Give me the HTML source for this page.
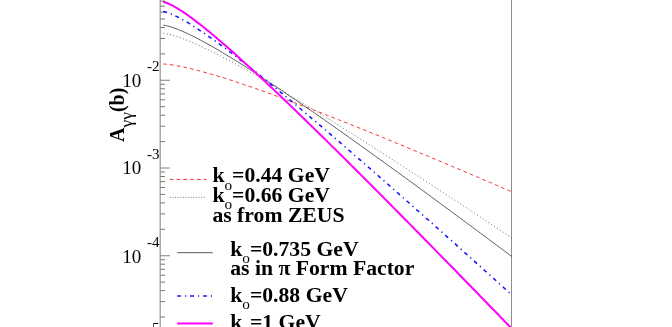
<!DOCTYPE html>
<html><head><meta charset="utf-8"><title>plot</title>
<style>
html,body{margin:0;padding:0;background:#fff;}
body{width:672px;height:327px;overflow:hidden;font-family:"Liberation Serif",serif;}
svg{display:block;position:absolute;left:0;top:0;will-change:transform;}
svg text{font-family:"Liberation Serif",serif;fill:#000;}
</style></head><body>
<svg width="672" height="327" viewBox="0 0 672 327">
<defs><mask id="tm" maskUnits="userSpaceOnUse" x="0" y="0" width="672" height="327"><rect width="672" height="327" fill="#fff"/></mask></defs>
<g>
<path d="M163.3,64.0 L165.5,64.1 L167.7,64.4 L169.9,64.6 L172.1,64.9 L174.2,65.3 L176.4,65.7 L178.6,66.1 L180.8,66.5 L183.0,66.9 L185.2,67.4 L187.4,67.9 L189.6,68.4 L191.8,68.9 L194.0,69.5 L196.1,70.0 L198.3,70.6 L200.5,71.2 L202.7,71.8 L204.9,72.4 L207.1,73.0 L209.3,73.6 L211.5,74.2 L213.7,74.9 L215.9,75.5 L218.0,76.2 L220.2,76.9 L222.4,77.5 L224.6,78.2 L226.8,78.9 L229.0,79.6 L231.2,80.3 L233.4,81.0 L235.6,81.7 L237.8,82.5 L239.9,83.2 L242.1,83.9 L244.3,84.7 L246.5,85.4 L248.7,86.2 L250.9,86.9 L253.1,87.7 L255.3,88.4 L257.5,89.2 L259.7,90.0 L261.8,90.7 L264.0,91.5 L266.2,92.3 L268.4,93.1 L270.6,93.9 L272.8,94.7 L275.0,95.5 L277.2,96.3 L279.4,97.1 L281.6,97.9 L283.7,98.7 L285.9,99.5 L288.1,100.3 L290.3,101.1 L292.5,101.9 L294.7,102.8 L296.9,103.6 L299.1,104.4 L301.3,105.3 L303.5,106.1 L305.6,106.9 L307.8,107.8 L310.0,108.6 L312.2,109.4 L314.4,110.3 L316.6,111.1 L318.8,112.0 L321.0,112.8 L323.2,113.7 L325.4,114.5 L327.5,115.4 L329.7,116.2 L331.9,117.1 L334.1,118.0 L336.3,118.8 L338.5,119.7 L340.7,120.6 L342.9,121.4 L345.1,122.3 L347.3,123.2 L349.4,124.0 L351.6,124.9 L353.8,125.8 L356.0,126.7 L358.2,127.6 L360.4,128.4 L362.6,129.3 L364.8,130.2 L367.0,131.1 L369.2,132.0 L371.3,132.9 L373.5,133.8 L375.7,134.6 L377.9,135.5 L380.1,136.4 L382.3,137.3 L384.5,138.2 L386.7,139.1 L388.9,140.0 L391.1,140.9 L393.2,141.8 L395.4,142.7 L397.6,143.6 L399.8,144.5 L402.0,145.4 L404.2,146.3 L406.4,147.2 L408.6,148.1 L410.8,149.0 L413.0,149.9 L415.1,150.9 L417.3,151.8 L419.5,152.7 L421.7,153.6 L423.9,154.5 L426.1,155.4 L428.3,156.3 L430.5,157.3 L432.7,158.2 L434.9,159.1 L437.0,160.0 L439.2,160.9 L441.4,161.8 L443.6,162.8 L445.8,163.7 L448.0,164.6 L450.2,165.5 L452.4,166.5 L454.6,167.4 L456.8,168.3 L458.9,169.2 L461.1,170.2 L463.3,171.1 L465.5,172.0 L467.7,173.0 L469.9,173.9 L472.1,174.8 L474.3,175.7 L476.5,176.7 L478.7,177.6 L480.8,178.5 L483.0,179.5 L485.2,180.4 L487.4,181.3 L489.6,182.3 L491.8,183.2 L494.0,184.2 L496.2,185.1 L498.4,186.0 L500.6,187.0 L502.7,187.9 L504.9,188.9 L507.1,189.8 L509.3,190.7 L511.5,191.7" fill="none" stroke="#ff2828" stroke-width="1.0" stroke-dasharray="3.6,3.2"/>
<path d="M163.3,33.2 L165.5,33.5 L167.7,34.0 L169.9,34.5 L172.1,35.1 L174.2,35.7 L176.4,36.4 L178.6,37.1 L180.8,37.9 L183.0,38.7 L185.2,39.6 L187.4,40.4 L189.6,41.3 L191.8,42.3 L194.0,43.2 L196.1,44.2 L198.3,45.1 L200.5,46.2 L202.7,47.2 L204.9,48.2 L207.1,49.3 L209.3,50.3 L211.5,51.4 L213.7,52.5 L215.9,53.6 L218.0,54.7 L220.2,55.8 L222.4,57.0 L224.6,58.1 L226.8,59.3 L229.0,60.4 L231.2,61.6 L233.4,62.8 L235.6,64.0 L237.8,65.2 L239.9,66.4 L242.1,67.6 L244.3,68.8 L246.5,70.0 L248.7,71.3 L250.9,72.5 L253.1,73.7 L255.3,75.0 L257.5,76.2 L259.7,77.5 L261.8,78.8 L264.0,80.0 L266.2,81.3 L268.4,82.6 L270.6,83.9 L272.8,85.1 L275.0,86.4 L277.2,87.7 L279.4,89.0 L281.6,90.3 L283.7,91.6 L285.9,92.9 L288.1,94.3 L290.3,95.6 L292.5,96.9 L294.7,98.2 L296.9,99.5 L299.1,100.9 L301.3,102.2 L303.5,103.5 L305.6,104.9 L307.8,106.2 L310.0,107.6 L312.2,108.9 L314.4,110.2 L316.6,111.6 L318.8,112.9 L321.0,114.3 L323.2,115.7 L325.4,117.0 L327.5,118.4 L329.7,119.7 L331.9,121.1 L334.1,122.5 L336.3,123.9 L338.5,125.2 L340.7,126.6 L342.9,128.0 L345.1,129.4 L347.3,130.7 L349.4,132.1 L351.6,133.5 L353.8,134.9 L356.0,136.3 L358.2,137.7 L360.4,139.1 L362.6,140.4 L364.8,141.8 L367.0,143.2 L369.2,144.6 L371.3,146.0 L373.5,147.4 L375.7,148.8 L377.9,150.2 L380.1,151.6 L382.3,153.0 L384.5,154.4 L386.7,155.9 L388.9,157.3 L391.1,158.7 L393.2,160.1 L395.4,161.5 L397.6,162.9 L399.8,164.3 L402.0,165.7 L404.2,167.2 L406.4,168.6 L408.6,170.0 L410.8,171.4 L413.0,172.8 L415.1,174.3 L417.3,175.7 L419.5,177.1 L421.7,178.5 L423.9,180.0 L426.1,181.4 L428.3,182.8 L430.5,184.3 L432.7,185.7 L434.9,187.1 L437.0,188.6 L439.2,190.0 L441.4,191.4 L443.6,192.9 L445.8,194.3 L448.0,195.7 L450.2,197.2 L452.4,198.6 L454.6,200.1 L456.8,201.5 L458.9,202.9 L461.1,204.4 L463.3,205.8 L465.5,207.3 L467.7,208.7 L469.9,210.2 L472.1,211.6 L474.3,213.1 L476.5,214.5 L478.7,216.0 L480.8,217.4 L483.0,218.9 L485.2,220.3 L487.4,221.8 L489.6,223.2 L491.8,224.7 L494.0,226.1 L496.2,227.6 L498.4,229.0 L500.6,230.5 L502.7,231.9 L504.9,233.4 L507.1,234.9 L509.3,236.3 L511.5,237.8" fill="none" stroke="#666" stroke-width="0.9" stroke-dasharray="1.1,2.3"/>
<path d="M163.3,25.1 L165.5,25.5 L167.7,26.0 L169.9,26.6 L172.1,27.3 L174.2,28.0 L176.4,28.8 L178.6,29.7 L180.8,30.6 L183.0,31.5 L185.2,32.5 L187.4,33.5 L189.6,34.6 L191.8,35.6 L194.0,36.7 L196.1,37.8 L198.3,39.0 L200.5,40.1 L202.7,41.3 L204.9,42.5 L207.1,43.7 L209.3,44.9 L211.5,46.1 L213.7,47.4 L215.9,48.7 L218.0,49.9 L220.2,51.2 L222.4,52.5 L224.6,53.8 L226.8,55.2 L229.0,56.5 L231.2,57.8 L233.4,59.2 L235.6,60.5 L237.8,61.9 L239.9,63.3 L242.1,64.6 L244.3,66.0 L246.5,67.4 L248.7,68.8 L250.9,70.2 L253.1,71.6 L255.3,73.0 L257.5,74.5 L259.7,75.9 L261.8,77.3 L264.0,78.8 L266.2,80.2 L268.4,81.6 L270.6,83.1 L272.8,84.6 L275.0,86.0 L277.2,87.5 L279.4,89.0 L281.6,90.4 L283.7,91.9 L285.9,93.4 L288.1,94.9 L290.3,96.4 L292.5,97.8 L294.7,99.3 L296.9,100.8 L299.1,102.3 L301.3,103.8 L303.5,105.4 L305.6,106.9 L307.8,108.4 L310.0,109.9 L312.2,111.4 L314.4,112.9 L316.6,114.5 L318.8,116.0 L321.0,117.5 L323.2,119.0 L325.4,120.6 L327.5,122.1 L329.7,123.7 L331.9,125.2 L334.1,126.7 L336.3,128.3 L338.5,129.8 L340.7,131.4 L342.9,132.9 L345.1,134.5 L347.3,136.0 L349.4,137.6 L351.6,139.1 L353.8,140.7 L356.0,142.3 L358.2,143.8 L360.4,145.4 L362.6,147.0 L364.8,148.5 L367.0,150.1 L369.2,151.7 L371.3,153.3 L373.5,154.8 L375.7,156.4 L377.9,158.0 L380.1,159.6 L382.3,161.1 L384.5,162.7 L386.7,164.3 L388.9,165.9 L391.1,167.5 L393.2,169.1 L395.4,170.7 L397.6,172.2 L399.8,173.8 L402.0,175.4 L404.2,177.0 L406.4,178.6 L408.6,180.2 L410.8,181.8 L413.0,183.4 L415.1,185.0 L417.3,186.6 L419.5,188.2 L421.7,189.8 L423.9,191.4 L426.1,193.0 L428.3,194.6 L430.5,196.2 L432.7,197.8 L434.9,199.5 L437.0,201.1 L439.2,202.7 L441.4,204.3 L443.6,205.9 L445.8,207.5 L448.0,209.1 L450.2,210.7 L452.4,212.4 L454.6,214.0 L456.8,215.6 L458.9,217.2 L461.1,218.8 L463.3,220.5 L465.5,222.1 L467.7,223.7 L469.9,225.3 L472.1,226.9 L474.3,228.6 L476.5,230.2 L478.7,231.8 L480.8,233.4 L483.0,235.1 L485.2,236.7 L487.4,238.3 L489.6,240.0 L491.8,241.6 L494.0,243.2 L496.2,244.8 L498.4,246.5 L500.6,248.1 L502.7,249.7 L504.9,251.4 L507.1,253.0 L509.3,254.7 L511.5,256.3" fill="none" stroke="#4a4a4a" stroke-width="0.9"/>
<path d="M163.3,11.4 L165.5,12.0 L167.7,12.7 L169.9,13.5 L172.1,14.4 L174.2,15.4 L176.4,16.4 L178.6,17.5 L180.8,18.7 L183.0,19.9 L185.2,21.1 L187.4,22.4 L189.6,23.7 L191.8,25.1 L194.0,26.5 L196.1,27.9 L198.3,29.3 L200.5,30.8 L202.7,32.2 L204.9,33.7 L207.1,35.3 L209.3,36.8 L211.5,38.3 L213.7,39.9 L215.9,41.5 L218.0,43.1 L220.2,44.7 L222.4,46.3 L224.6,47.9 L226.8,49.6 L229.0,51.2 L231.2,52.9 L233.4,54.5 L235.6,56.2 L237.8,57.9 L239.9,59.6 L242.1,61.3 L244.3,63.0 L246.5,64.7 L248.7,66.5 L250.9,68.2 L253.1,69.9 L255.3,71.7 L257.5,73.4 L259.7,75.2 L261.8,77.0 L264.0,78.7 L266.2,80.5 L268.4,82.3 L270.6,84.1 L272.8,85.9 L275.0,87.7 L277.2,89.5 L279.4,91.3 L281.6,93.1 L283.7,94.9 L285.9,96.7 L288.1,98.5 L290.3,100.3 L292.5,102.2 L294.7,104.0 L296.9,105.8 L299.1,107.7 L301.3,109.5 L303.5,111.4 L305.6,113.2 L307.8,115.1 L310.0,116.9 L312.2,118.8 L314.4,120.6 L316.6,122.5 L318.8,124.3 L321.0,126.2 L323.2,128.1 L325.4,130.0 L327.5,131.8 L329.7,133.7 L331.9,135.6 L334.1,137.5 L336.3,139.4 L338.5,141.2 L340.7,143.1 L342.9,145.0 L345.1,146.9 L347.3,148.8 L349.4,150.7 L351.6,152.6 L353.8,154.5 L356.0,156.4 L358.2,158.3 L360.4,160.2 L362.6,162.1 L364.8,164.0 L367.0,165.9 L369.2,167.8 L371.3,169.8 L373.5,171.7 L375.7,173.6 L377.9,175.5 L380.1,177.4 L382.3,179.4 L384.5,181.3 L386.7,183.2 L388.9,185.1 L391.1,187.1 L393.2,189.0 L395.4,190.9 L397.6,192.8 L399.8,194.8 L402.0,196.7 L404.2,198.6 L406.4,200.6 L408.6,202.5 L410.8,204.5 L413.0,206.4 L415.1,208.3 L417.3,210.3 L419.5,212.2 L421.7,214.2 L423.9,216.1 L426.1,218.1 L428.3,220.0 L430.5,222.0 L432.7,223.9 L434.9,225.9 L437.0,227.8 L439.2,229.8 L441.4,231.7 L443.6,233.7 L445.8,235.6 L448.0,237.6 L450.2,239.5 L452.4,241.5 L454.6,243.4 L456.8,245.4 L458.9,247.4 L461.1,249.3 L463.3,251.3 L465.5,253.3 L467.7,255.2 L469.9,257.2 L472.1,259.1 L474.3,261.1 L476.5,263.1 L478.7,265.1 L480.8,267.0 L483.0,269.0 L485.2,271.0 L487.4,272.9 L489.6,274.9 L491.8,276.9 L494.0,278.8 L496.2,280.8 L498.4,282.8 L500.6,284.8 L502.7,286.7 L504.9,288.7 L507.1,290.7 L509.3,292.7 L511.5,294.7" fill="none" stroke="#1414ff" stroke-width="1.55" stroke-dasharray="3.9,3.9,1.2,3.9"/>
<path d="M163.3,1.8 L165.5,2.5 L167.7,3.3 L169.9,4.3 L172.1,5.4 L174.2,6.5 L176.4,7.8 L178.6,9.1 L180.8,10.5 L183.0,11.9 L185.2,13.4 L187.4,14.9 L189.6,16.5 L191.8,18.1 L194.0,19.7 L196.1,21.4 L198.3,23.1 L200.5,24.8 L202.7,26.5 L204.9,28.3 L207.1,30.1 L209.3,31.8 L211.5,33.7 L213.7,35.5 L215.9,37.3 L218.0,39.2 L220.2,41.1 L222.4,42.9 L224.6,44.8 L226.8,46.8 L229.0,48.7 L231.2,50.6 L233.4,52.5 L235.6,54.5 L237.8,56.5 L239.9,58.4 L242.1,60.4 L244.3,62.4 L246.5,64.4 L248.7,66.4 L250.9,68.4 L253.1,70.4 L255.3,72.4 L257.5,74.5 L259.7,76.5 L261.8,78.5 L264.0,80.6 L266.2,82.6 L268.4,84.7 L270.6,86.8 L272.8,88.8 L275.0,90.9 L277.2,93.0 L279.4,95.1 L281.6,97.1 L283.7,99.2 L285.9,101.3 L288.1,103.4 L290.3,105.5 L292.5,107.6 L294.7,109.7 L296.9,111.9 L299.1,114.0 L301.3,116.1 L303.5,118.2 L305.6,120.3 L307.8,122.5 L310.0,124.6 L312.2,126.7 L314.4,128.9 L316.6,131.0 L318.8,133.2 L321.0,135.3 L323.2,137.5 L325.4,139.6 L327.5,141.8 L329.7,143.9 L331.9,146.1 L334.1,148.3 L336.3,150.4 L338.5,152.6 L340.7,154.8 L342.9,156.9 L345.1,159.1 L347.3,161.3 L349.4,163.5 L351.6,165.6 L353.8,167.8 L356.0,170.0 L358.2,172.2 L360.4,174.4 L362.6,176.6 L364.8,178.8 L367.0,181.0 L369.2,183.1 L371.3,185.3 L373.5,187.5 L375.7,189.7 L377.9,191.9 L380.1,194.1 L382.3,196.3 L384.5,198.6 L386.7,200.8 L388.9,203.0 L391.1,205.2 L393.2,207.4 L395.4,209.6 L397.6,211.8 L399.8,214.0 L402.0,216.2 L404.2,218.5 L406.4,220.7 L408.6,222.9 L410.8,225.1 L413.0,227.3 L415.1,229.6 L417.3,231.8 L419.5,234.0 L421.7,236.3 L423.9,238.5 L426.1,240.7 L428.3,242.9 L430.5,245.2 L432.7,247.4 L434.9,249.6 L437.0,251.9 L439.2,254.1 L441.4,256.3 L443.6,258.6 L445.8,260.8 L448.0,263.1 L450.2,265.3 L452.4,267.5 L454.6,269.8 L456.8,272.0 L458.9,274.3 L461.1,276.5 L463.3,278.8 L465.5,281.0 L467.7,283.3 L469.9,285.5 L472.1,287.8 L474.3,290.0 L476.5,292.3 L478.7,294.5 L480.8,296.8 L483.0,299.0 L485.2,301.3 L487.4,303.5 L489.6,305.8 L491.8,308.0 L494.0,310.3 L496.2,312.5 L498.4,314.8 L500.6,317.1 L502.7,319.3 L504.9,321.6 L507.1,323.8 L509.3,326.1 L511.5,328.4" fill="none" stroke="#ff00ff" stroke-width="2.0"/>
<path d="M160.6,255.7H170 M160.6,168.0H170 M160.6,80.3H170" stroke="#000" stroke-opacity="0.5" stroke-width="1.1" fill="none"/>
<path d="M160.6,317.0H165 M160.6,301.6H165 M160.6,290.6H165 M160.6,282.1H165 M160.6,275.2H165 M160.6,269.3H165 M160.6,264.2H165 M160.6,259.7H165 M160.6,229.3H165 M160.6,213.9H165 M160.6,202.9H165 M160.6,194.4H165 M160.6,187.5H165 M160.6,181.6H165 M160.6,176.5H165 M160.6,172.0H165 M160.6,141.6H165 M160.6,126.2H165 M160.6,115.2H165 M160.6,106.7H165 M160.6,99.8H165 M160.6,93.9H165 M160.6,88.8H165 M160.6,84.3H165 M160.6,53.9H165 M160.6,38.5H165 M160.6,27.5H165 M160.6,19.0H165 M160.6,12.1H165 M160.6,6.2H165 M160.6,1.1H165" stroke="#000" stroke-opacity="0.6" stroke-width="0.9" fill="none"/>
<path d="M160.15,-2V330" stroke="#000" stroke-width="0.95" stroke-opacity="0.55" fill="none"/>
<path d="M511.5,-2V330" stroke="#000" stroke-width="1" stroke-opacity="0.45" fill="none"/>
<path d="M169.8,179.4H206.2" fill="none" stroke="#ff2828" stroke-width="1.0" stroke-dasharray="3.6,3.2"/>
<path d="M169.8,197.4H206" fill="none" stroke="#777" stroke-width="0.9" stroke-dasharray="1.1,1.5"/>
<path d="M177.2,252.7H212.8" fill="none" stroke="#4a4a4a" stroke-width="0.9"/>
<path d="M177.2,295.9H212.8" fill="none" stroke="#1414ff" stroke-width="1.55" stroke-dasharray="3.9,3.9,1.2,3.9"/>
<path d="M177.2,323.4H212.8" fill="none" stroke="#ff00ff" stroke-width="2.0"/>
</g>
<g mask="url(#tm)">
<text x="122.2" y="86.5" font-size="19">10</text>
<text x="147.0" y="70.5" font-size="15">-2</text>
<text x="122.2" y="174.4" font-size="19">10</text>
<text x="147.0" y="158.8" font-size="15">-3</text>
<text x="122.2" y="262.7" font-size="19">10</text>
<text x="147.0" y="246.9" font-size="15">-4</text>
<text x="122.2" y="350.4" font-size="19">10</text>
<text x="147.0" y="333.2" font-size="15">-5</text>
<text x="212.4" y="182.4" font-weight="bold" font-size="21.7">k<tspan font-weight="normal" font-size="15.3" dy="7.6">o</tspan><tspan dy="-7.6">=0.44 GeV</tspan></text>
<text x="212.4" y="201.8" font-weight="bold" font-size="21.7">k<tspan font-weight="normal" font-size="15.3" dy="7.6">o</tspan><tspan dy="-7.6">=0.66 GeV</tspan></text>
<text x="212.4" y="221.9" font-weight="bold" font-size="21.7">as from ZEUS</text>
<text x="230.2" y="255.8" font-weight="bold" font-size="21.7">k<tspan font-weight="normal" font-size="15.3" dy="7.6">o</tspan><tspan dy="-7.6">=0.735 GeV</tspan></text>
<text x="230.2" y="275.4" font-weight="bold" font-size="21.7">as in π Form Factor</text>
<text x="230.2" y="301.7" font-weight="bold" font-size="21.7">k<tspan font-weight="normal" font-size="15.3" dy="7.6">o</tspan><tspan dy="-7.6">=0.88 GeV</tspan></text>
<text x="230.2" y="328.8" font-weight="bold" font-size="21.7">k<tspan font-weight="normal" font-size="15.3" dy="7.6">o</tspan><tspan dy="-7.6">=1 GeV</tspan></text>
<text transform="translate(124,142.0) rotate(-90)" font-weight="bold" font-size="20">A<tspan font-weight="normal" font-size="17.5" dy="7.5">γγ</tspan><tspan dy="-7.5">(b)</tspan></text>
</g>
</svg>
</body></html>
